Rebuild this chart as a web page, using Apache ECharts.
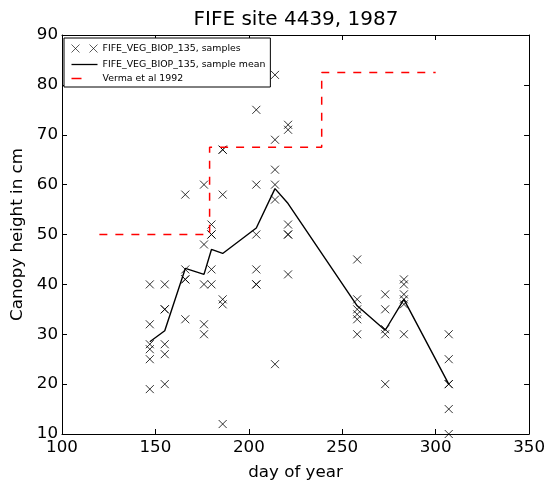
<!DOCTYPE html>
<html>
<head>
<meta charset="utf-8">
<script src="https://cdn.jsdelivr.net/npm/echarts@6/dist/echarts.min.js"></script>
<style>
  html, body { margin: 0; padding: 0; background: #fff; }
  #chart { width: 548px; height: 486px; }
</style>
</head>
<body>
<div id="chart"></div>
<script>
// Sampling days (day of year) at site 4439
const sampleDays = [147, 155, 166, 176, 180, 186, 204, 214, 221, 258, 273, 283, 307];

// Individual canopy height samples (cm), one list per sampling day
const sampleHeights = [
  [40, 32, 28, 27, 25, 19],
  [40, 35, 35, 28, 26, 20],
  [58, 43, 41, 41, 33],
  [60, 48, 40, 32, 30],
  [52, 50, 50, 43, 40],
  [67, 67, 58, 37, 36, 12],
  [75, 60, 50, 43, 40, 40],
  [82, 69, 63, 60, 57, 24],
  [72, 71, 52, 50, 50, 42],
  [45, 37, 35, 34, 33, 30],
  [38, 35, 31, 30, 20],
  [41, 40, 38, 37, 36, 30],
  [30, 25, 20, 20, 15, 10]
];

// Sample mean per sampling day (cm)
const meanHeights = [28.5, 30.7, 43.2, 42, 47, 46.2, 51.3, 59.2, 56.2, 35.7, 30.8, 37, 20];

// Verma et al 1992 stepped canopy height (cm)
const vermaDays = [120, 179, 239, 300];
const vermaHeights = [50, 67.5, 82.5, 82.5];

// Axis ticks
const xTicks = { min: 100, max: 350, interval: 50 };
const yTicks = { min: 10, max: 90, interval: 10 };

const FONT = 'DejaVu Sans';
const names = {
  samples: 'FIFE_VEG_BIOP_135, samples',
  mean: 'FIFE_VEG_BIOP_135, sample mean',
  verma: 'Verma et al 1992'
};

const samplePoints = [];
sampleDays.forEach((d, i) => {
  sampleHeights[i].forEach(h => samplePoints.push([d, h]));
});
const meanPoints = sampleDays.map((d, i) => [d, meanHeights[i]]);
const vermaPoints = vermaDays.map((d, i) => [d, vermaHeights[i]]);

const frameLine = { show: true, onZero: false, lineStyle: { color: '#000', width: 1 } };
const innerTick = { show: true, inside: true, length: 5, lineStyle: { color: '#000', width: 1 } };

const chart = echarts.init(document.getElementById('chart'), null, { renderer: 'canvas' });
chart.setOption({
  animation: false,
  backgroundColor: '#fff',
  title: {
    text: 'FIFE site 4439, 1987',
    left: 296, top: 10, textAlign: 'center', padding: 0,
    textStyle: { fontFamily: FONT, fontSize: 20, fontWeight: 'normal', color: '#000' }
  },
  grid: { left: 62, right: 17, top: 35, bottom: 49, containLabel: false },
  legend: {
    orient: 'vertical',
    left: 64, top: 38,
    padding: [4, 5, 4, 5],
    itemGap: 5,
    itemWidth: 26,
    itemHeight: 10,
    backgroundColor: '#fff',
    borderColor: '#000',
    borderWidth: 1,
    borderRadius: 0,
    textStyle: { fontFamily: FONT, fontSize: 9.4, color: '#000' },
    data: [
      { name: names.samples, icon: 'path://M0,0L8,8M0,8L8,0M18,0L26,8M18,8L26,0', itemStyle: { borderWidth: 0.8 } },
      { name: names.mean, icon: 'path://M0,0H26V1.3H0Z' },
      { name: names.verma, icon: 'path://M0,0H10V1.6H0ZM26,0L26,1.6', itemStyle: { borderWidth: 0 } }
    ]
  },
  xAxis: [
    {
      type: 'value', position: 'bottom',
      min: xTicks.min, max: xTicks.max, interval: xTicks.interval,
      name: 'day of year', nameLocation: 'middle', nameGap: 30,
      nameTextStyle: { fontFamily: FONT, fontSize: 16.7, color: '#000' },
      axisLine: frameLine, axisTick: innerTick,
      axisLabel: { fontFamily: FONT, fontSize: 16.7, color: '#000', margin: 5 },
      splitLine: { show: false }
    },
    {
      type: 'value', position: 'top',
      min: xTicks.min, max: xTicks.max, interval: xTicks.interval,
      axisLine: frameLine, axisTick: innerTick,
      axisLabel: { show: false }, splitLine: { show: false }
    }
  ],
  yAxis: [
    {
      type: 'value', position: 'left',
      min: yTicks.min, max: yTicks.max, interval: yTicks.interval,
      name: 'Canopy height in cm', nameLocation: 'middle', nameGap: 30, nameRotate: 90,
      nameTextStyle: { fontFamily: FONT, fontSize: 16.7, color: '#000' },
      axisLine: frameLine, axisTick: innerTick,
      axisLabel: { fontFamily: FONT, fontSize: 16.7, color: '#000', margin: 4 },
      splitLine: { show: false }
    },
    {
      type: 'value', position: 'right',
      min: yTicks.min, max: yTicks.max, interval: yTicks.interval,
      axisLine: frameLine, axisTick: innerTick,
      axisLabel: { show: false }, splitLine: { show: false }
    }
  ],
  series: [
    {
      name: names.samples,
      type: 'scatter',
      data: samplePoints,
      symbol: 'path://M0,0L8,8M0,8L8,0',
      symbolSize: 8,
      itemStyle: { color: 'none', borderColor: '#000', borderWidth: 1 },
      z: 3
    },
    {
      name: names.mean,
      type: 'line',
      data: meanPoints,
      showSymbol: false,
      color: '#000',
      lineStyle: { color: '#000', width: 1.4 },
      z: 4
    },
    {
      name: names.verma,
      type: 'line',
      data: vermaPoints,
      step: 'end',
      showSymbol: false,
      color: '#ff0000',
      lineStyle: { color: '#ff0000', width: 1.5, type: [8, 8] },
      z: 5
    }
  ]
});
</script>
</body>
</html>
